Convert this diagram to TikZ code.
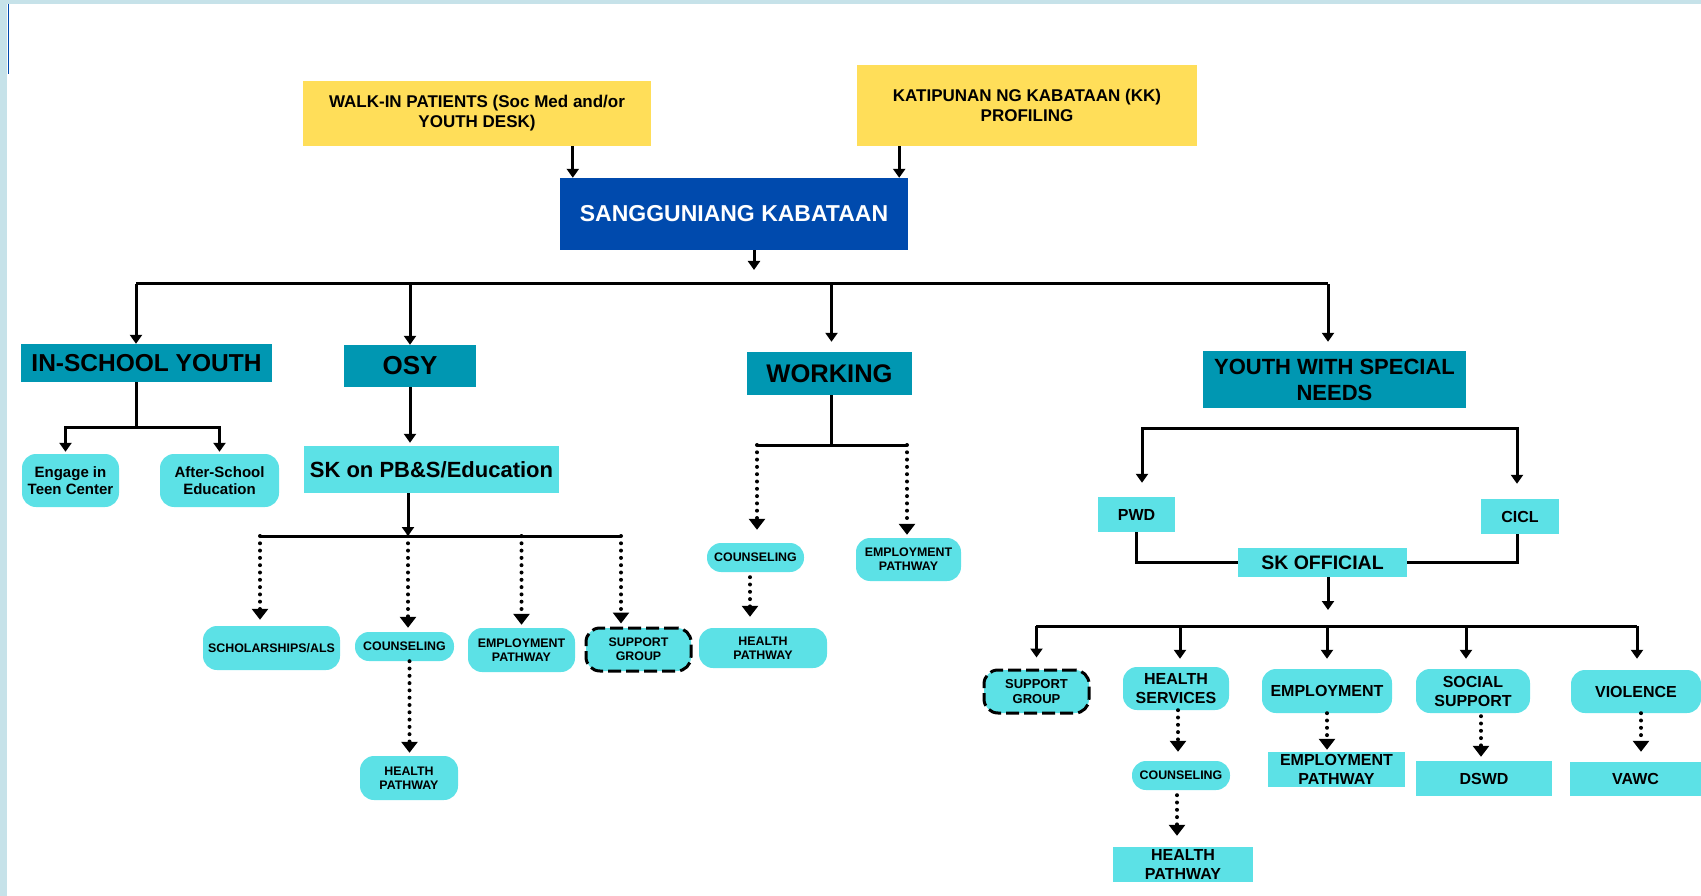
\documentclass[tikz,border=0pt]{standalone}
\usepackage{fontspec}
\setmainfont{Liberation Sans}
\usepackage{tikz}
\usetikzlibrary{positioning, arrows.meta}
\definecolor{skyellow}{HTML}{FFDE59}
\definecolor{skblue}{HTML}{004AAD}
\definecolor{skteal}{HTML}{0097B2}
\definecolor{skcyan}{HTML}{5CE1E6}
\definecolor{skframe}{HTML}{C6E2E9}
\tikzset{
>={Triangle[width=12pt,length=9pt]}, % small filled arrow heads
every node/.style={inner sep=0pt, align=center}, % box sizes are given per node
dims/.style 2 args={minimum width=#1pt, minimum height=#2pt}, % width and height of a box
fs/.style 2 args={font=\fontsize{#1}{#2}\selectfont\bfseries}, % font size and line spacing
yellowbox/.style={fill=skyellow}, % entry points
headbox/.style={fill=skblue, text=white}, % the council
groupbox/.style={fill=skteal}, % youth groups
itembox/.style={fill=skcyan}, % plain cyan boxes
pill/.style={fill=skcyan, rounded corners=14pt}, % rounded cyan boxes
dashpill/.style={pill, draw=black, line width=3pt, dash pattern=on 13pt off 5pt}, % support groups
link/.style={line width=3pt}, % solid connectors
dotlink/.style={line width=4pt, line cap=round, dash pattern=on 0pt off 7.3pt, -{Triangle[width=16pt,length=11pt]}}, % referrals
}

\begin{document}
\begin{tikzpicture}[x=1pt, y=-1pt]
        \useasboundingbox (0,0) rectangle (1701,896);
        \fill[skframe] (0,0) rectangle (1701,4);
        \fill[skframe] (0,0) rectangle (7,896);
        \draw[skblue, line width=1.2pt] (8.5,4) -- (8.5,74);

        % entry points and council
        \node[yellowbox, dims={348}{65}, fs={17}{20}] (walkin) at (477,113.5) {WALK-IN PATIENTS (Soc Med and/or\\YOUTH DESK)};
        \node[yellowbox, dims={340}{81}, fs={17}{20}] (katip) at (1027,105.5) {KATIPUNAN NG KABATAAN (KK)\\PROFILING};
        \node[headbox, dims={348}{72}, fs={23}{27}] (sk) at (734,214) {\raisebox{-3pt}{SANGGUNIANG KABATAAN}};

        % youth groups
        \node[groupbox, dims={251}{38}, fs={24.5}{28}] (insch) at (146.5,363) {IN-SCHOOL YOUTH};
        \node[groupbox, dims={132}{42}, fs={26}{30}] (osy) at (410,366) {OSY};
        \node[groupbox, dims={165}{43}, fs={25.5}{30}] (working) at (829.5,373.5) {WORKING};
        \node[groupbox, dims={263}{57}, fs={22}{26}] (ywsn) at (1334.5,379.5) {YOUTH WITH SPECIAL\\NEEDS};

        % in-school youth
        \node[pill, dims={97}{53}, fs={15}{17.5}] (engage) at (70.5,480.5) {Engage in\\Teen Center};
        \node[pill, dims={119}{53}, fs={15}{17.5}] (after) at (219.5,480.5) {After-School\\Education};

        % out-of-school youth
        \node[itembox, dims={255}{47}, fs={22}{26}] (skpbs) at (431.5,469.5) {SK on PB\&S/Education};
        \node[pill, dims={137}{44}, fs={12.4}{14}] (scholar) at (271.5,648) {SCHOLARSHIPS/ALS};
        \node[pill, dims={99}{29}, fs={12.4}{14}] (couns1) at (404.5,646.5) {COUNSELING};
        \node[pill, dims={107}{44}, fs={12.4}{14}] (emp1) at (521.5,650) {EMPLOYMENT\\PATHWAY};
        \node[dashpill, dims={105}{43}, fs={12.4}{14}] (supp1) at (638.5,649.5) {SUPPORT\\GROUP};
        \node[pill, dims={98}{44}, fs={12.4}{14}] (health1) at (409,778) {HEALTH\\PATHWAY};

        % working youth
        \node[pill, dims={97}{29}, fs={12.4}{14}] (couns2) at (755.5,557.5) {COUNSELING};
        \node[pill, dims={105}{43}, fs={12.4}{14}] (emp2) at (908.5,559.5) {EMPLOYMENT\\PATHWAY};
        \node[pill, dims={128}{40}, fs={12.4}{14.5}] (health2) at (763,648) {HEALTH\\PATHWAY};

        % special needs
        \node[itembox, dims={77}{35}, fs={16}{19}] (pwd) at (1136.5,514.5) {PWD};
        \node[itembox, dims={78}{35}, fs={16}{19}] (cicl) at (1520,516.5) {CICL};
        \node[itembox, dims={169}{29}, fs={19.5}{23}] (skoff) at (1322.5,562.5) {SK OFFICIAL};
        \node[dashpill, dims={105}{43}, fs={13}{14.5}] (supp2) at (1036.5,691.5) {SUPPORT\\GROUP};
        \node[pill, dims={106}{43}, fs={16}{18.5}] (hserv) at (1176,688.5) {HEALTH\\SERVICES};
        \node[pill, dims={130}{44}, fs={16}{18.5}] (emp3) at (1327,691) {EMPLOYMENT};
        \node[pill, dims={114}{44}, fs={16}{19}] (social) at (1473,691) {SOCIAL\\SUPPORT};
        \node[pill, dims={130}{43}, fs={16}{18.5}] (violence) at (1636,691.5) {VIOLENCE};
        \node[pill, dims={98}{29}, fs={12.4}{14}] (couns3) at (1181,775.5) {COUNSELING};
        \node[itembox, dims={140}{35}, fs={16}{19}] (health3) at (1183,864.5) {HEALTH\\PATHWAY};
        \node[itembox, dims={137}{35}, fs={16}{18.5}] (emp4) at (1336.5,769.5) {EMPLOYMENT\\PATHWAY};
        \node[itembox, dims={136}{35}, fs={16}{19}] (dswd) at (1484,778.5) {DSWD};
        \node[itembox, dims={131}{34}, fs={16}{19}] (vawc) at (1635.5,779) {VAWC};

        % junctions
        \coordinate (skdown) at (754,270);
        \coordinate (busL) at (136,284);
        \coordinate (busR) at (1328,284);
        \coordinate (isj) at (136,427);
        \coordinate (obL) at (260,536);
        \coordinate (obM) at (408,536);
        \coordinate (obR) at (621,536);
        \coordinate (wj) at (831,445);
        \coordinate (wL) at (757,445);
        \coordinate (wR) at (907,445);
        \coordinate (yL) at (1142,428);
        \coordinate (yR) at (1517,428);
        \coordinate (sj) at (1328,610);
        \coordinate (sL) at (1036,626);
        \coordinate (sR) at (1637,626);

        \draw[link, ->] ([xshift=13pt]sk.north west |- walkin.south) -- ([xshift=13pt]sk.north west);
        \draw[link, ->] ([xshift=-9pt]sk.north east |- katip.south) -- ([xshift=-9pt]sk.north east);
        \draw[link, ->] (skdown |- sk.south) -- (skdown);

        \draw[link] (busL) -- (busR);
        \draw[link, ->] (busL) -- (busL |- insch.north);
        \draw[link, ->] (osy.north |- busL) -- (osy.north);
        \draw[link, ->] ([xshift=2pt]working.north |- busL) -- ([xshift=2pt, yshift=10pt]working.north);
        \draw[link, ->] (busR) -- ([yshift=9pt]busR |- ywsn.north);

        \draw[link] (isj |- insch.south) -- (isj);
        \draw[link, ->] (isj) -| ([xshift=-5pt, yshift=2pt]engage.north);
        \draw[link, ->] (isj) -| ([yshift=2pt]after.north);

        \draw[link, ->] (osy.south) -- ([yshift=3pt]osy.south |- skpbs.north);
        \draw[link] (obL) -- (obR);
        \draw[link, ->] (obM |- skpbs.south) -- (obM);
        \draw[dotlink] (obL) -- ([yshift=6pt]obL |- scholar.north);
        \draw[dotlink] (obM) -- ([yshift=4pt]obM |- couns1.north);
        \draw[dotlink] (emp1.north |- obL) -- ([yshift=3pt]emp1.north);
        \draw[dotlink] (obR) -- ([yshift=3pt]obR |- supp1.north);
        \draw[dotlink] ([xshift=5pt]couns1.south) -- ([xshift=5pt, yshift=3pt]couns1.south |- health1.north);

        \draw[link] (wj |- working.south) -- (wj);
        \draw[link] (wL) -- (wR);
        \draw[dotlink] (wL) -- ([yshift=13pt]wL |- couns2.north);
        \draw[dotlink] (wR) -- ([yshift=3pt]wR |- emp2.north);
        \draw[dotlink] ([xshift=-5.5pt, yshift=-5pt]couns2.south) -- ([xshift=-5.5pt, yshift=11pt]couns2.south |- health2.north);

        \draw[link, <->] ([yshift=14pt]yL |- pwd.north) -- (yL) -- (yR) -- ([yshift=15pt]yR |- cicl.north);
        \draw[link] (pwd.south) |- (skoff.west);
        \draw[link] ([xshift=-3pt]cicl.south) |- (skoff.east);
        \draw[link, ->] (sj |- skoff.south) -- (sj);
        \draw[link] (sL) -- (sR);
        \foreach \n/\dx/\gap in {supp2/0/11, hserv/4/8, emp3/0/10, social/-7/10, violence/1/11}
          \draw[link, ->] ([xshift=\dx pt]\n.north |- sL) -- ([xshift=\dx pt, yshift=\gap pt]\n.north);

        \draw[dotlink] ([xshift=2pt]hserv.south) -- ([xshift=2pt, yshift=9pt]hserv.south |- couns3.north);
        \draw[dotlink] ([xshift=-4pt, yshift=-5pt]couns3.south) -- ([xshift=-4pt, yshift=11pt]couns3.south |- health3.north);
        \draw[dotlink] (emp3.south) -- ([yshift=2pt]emp3.south |- emp4.north);
        \draw[dotlink] ([xshift=8pt, yshift=-3pt]social.south) -- ([xshift=8pt, yshift=4pt]social.south |- dswd.north);
        \draw[dotlink] ([xshift=5pt]violence.south) -- ([xshift=5pt, yshift=10pt]violence.south |- vawc.north);
      \end{tikzpicture}
\end{document}
